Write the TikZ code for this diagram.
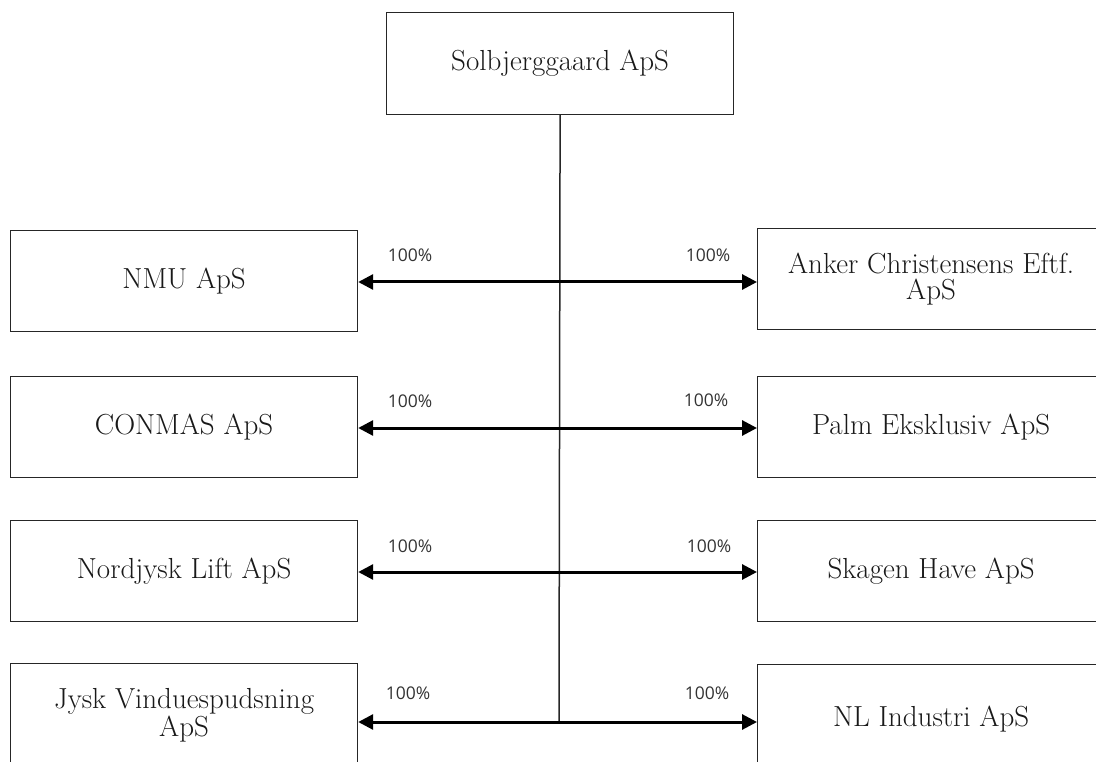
\documentclass[tikz,border=0pt]{standalone}
\usepackage{fontspec}
\newfontfamily\pctfont{Open Sans}
\usetikzlibrary{arrows.meta}
\begin{document}
\begin{tikzpicture}[x=1pt,y=-1pt,
  box/.style={draw=black!85, line width=1.2pt, minimum width=347pt, minimum height=101pt,
    inner sep=0pt, align=center, anchor=north west, text=black!90,
    font=\fontsize{29}{26}\selectfont},
  pct/.style={inner sep=0pt, text=black!80, font=\pctfont\fontsize{17.5}{18}\selectfont},
  spine/.style={draw=black!85, line width=1.5pt},
  arr/.style={draw=black, line width=3pt, {Triangle[length=15pt,width=15pt]}-{Triangle[length=15pt,width=15pt]}}
]
\useasboundingbox (0,0) rectangle (1096,762);
\clip (0,0) rectangle (1096,762);

\node[box, minimum height=102pt] (top) at (386,12) {Solbjerggaard ApS};

\node[box] (l1) at (10,230) {NMU ApS};
\node[box] (l2) at (10,376) {CONMAS ApS};
\node[box] (l3) at (10,520) {Nordjysk Lift ApS};
\node[box, minimum height=103pt] (l4) at (10,663) {Jysk Vinduespudsning\\ApS};

\node[box] (r1) at (757,228) {Anker Christensens Eftf.\\ApS};
\node[box] (r2) at (757,376) {Palm Eksklusiv ApS};
\node[box] (r3) at (757,520) {Skagen Have ApS};
\node[box, minimum height=108pt] (r4) at (757,664) {NL Industri ApS};

\coordinate (m1) at (559,282);
\coordinate (m2) at (559,428);
\coordinate (m3) at (559,572);
\coordinate (m4) at (559,722);

\draw[spine] (top.south) -- (m4);

\draw[arr] (l1.east |- m1) -- (r1.west |- m1);
\draw[arr] (l2.east |- m2) -- (r2.west |- m2);
\draw[arr] (l3.east |- m3) -- (r3.west |- m3);
\draw[arr] (l4.east |- m4) -- (r4.west |- m4);

\node[pct] (p1l) at (410,255) {100\%};
\node[pct] (p1r) at (708,255) {100\%};
\node[pct] (p2l) at (410,401) {100\%};
\node[pct] (p2r) at (706,400) {100\%};
\node[pct] (p3l) at (410,546) {100\%};
\node[pct] (p3r) at (709,546) {100\%};
\node[pct] (p4l) at (408,693) {100\%};
\node[pct] (p4r) at (707,693) {100\%};
\end{tikzpicture}
\end{document}
